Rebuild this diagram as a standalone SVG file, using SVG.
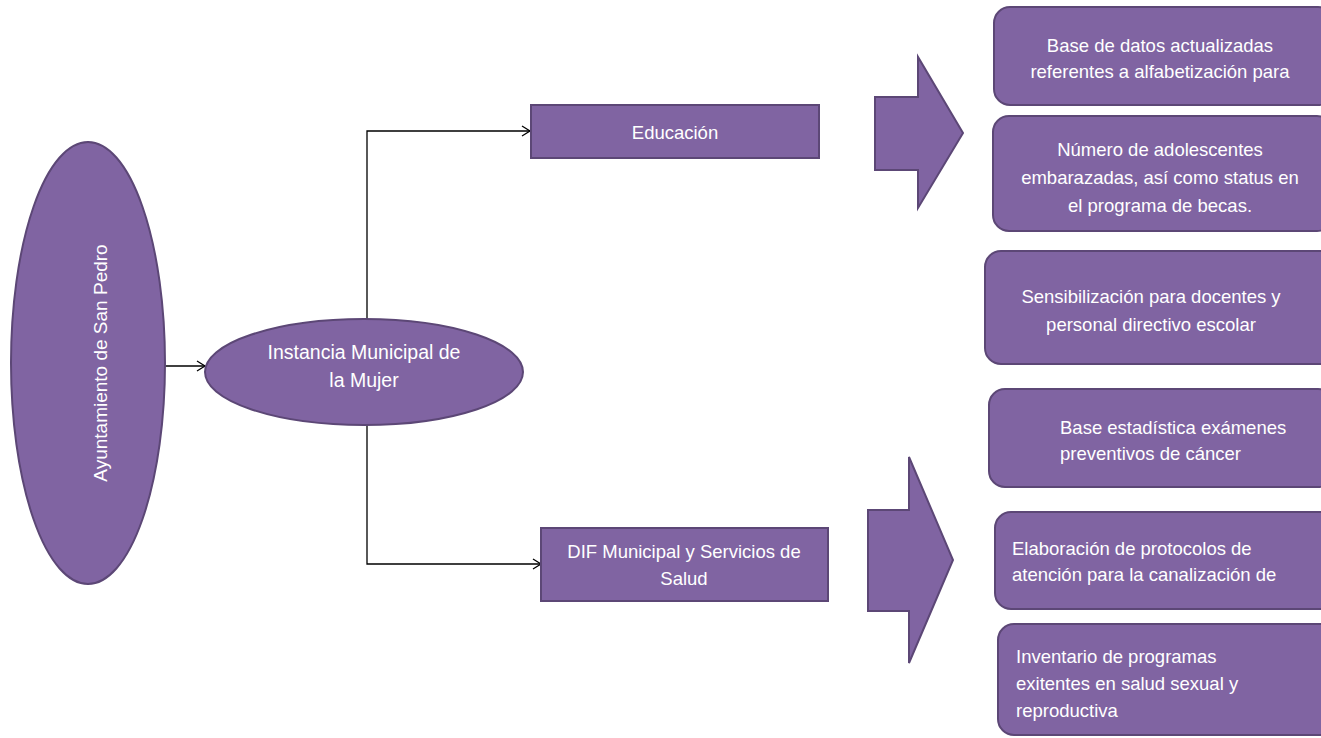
<svg xmlns="http://www.w3.org/2000/svg" width="1321" height="738" viewBox="0 0 1321 738">
<defs>
<style>
.n{fill:#8064a2;stroke:#5c4776;stroke-width:2}
.t{fill:#ffffff;font-family:"Liberation Sans",Arial,sans-serif;font-size:18.5px}
.c{text-anchor:middle}
.l{fill:none;stroke:#000;stroke-width:1.3}
</style>
<marker id="ah" markerWidth="12" markerHeight="12" refX="10" refY="6" orient="auto" markerUnits="userSpaceOnUse">
<path d="M2,1 L10,6 L2,11" fill="none" stroke="#000" stroke-width="1.3"/>
</marker>
</defs>
<rect width="1321" height="738" fill="#fff"/>
<g id="connectors">
<path class="l" d="M165,366 H205" marker-end="url(#ah)"/>
<path class="l" d="M367,319 V131 H530" marker-end="url(#ah)"/>
<path class="l" d="M367,425 V564 H541" marker-end="url(#ah)"/>
</g>
<g id="ayuntamiento">
<ellipse class="n" cx="88" cy="363" rx="77" ry="221"/>
<text class="t c" transform="translate(107,363) rotate(-90)" style="font-size:19px">Ayuntamiento de San Pedro</text>
</g>
<g id="instancia">
<ellipse class="n" cx="364" cy="372" rx="159" ry="53"/>
<text class="t c" x="364" y="359" style="font-size:19.5px">Instancia Municipal de</text>
<text class="t c" x="364" y="387" style="font-size:19.5px">la Mujer</text>
</g>
<g id="educacion">
<rect class="n" x="531" y="105" width="288" height="53"/>
<text class="t c" x="675" y="139">Educación</text>
</g>
<g id="dif">
<rect class="n" x="541" y="528" width="287" height="73"/>
<text class="t c" x="684" y="558">DIF Municipal y Servicios de</text>
<text class="t c" x="684" y="585">Salud</text>
</g>
<g id="flecha1">
<path class="n" d="M875,97 H918 V57 L963,133 L918,208 V170 H875 Z"/>
</g>
<g id="flecha2">
<path class="n" d="M868,510 H909 V457 L953,560 L909,663 V611 H868 Z"/>
</g>
<g id="r1">
<rect class="n" x="994" y="7" width="340" height="98" rx="16"/>
<text class="t c" x="1160" y="52">Base de datos actualizadas</text>
<text class="t c" x="1160" y="78">referentes a alfabetización para</text>
</g>
<g id="r2">
<rect class="n" x="993" y="116" width="340" height="115" rx="16"/>
<text class="t c" x="1160" y="156">Número de adolescentes</text>
<text class="t c" x="1160" y="184">embarazadas, así como status en</text>
<text class="t c" x="1160" y="212">el programa de becas.</text>
</g>
<g id="r3">
<rect class="n" x="985" y="251" width="350" height="113" rx="16"/>
<text class="t c" x="1151" y="303">Sensibilización para docentes y</text>
<text class="t c" x="1151" y="331">personal directivo escolar</text>
</g>
<g id="r4">
<rect class="n" x="989" y="389" width="345" height="98" rx="16"/>
<text class="t" x="1060" y="434">Base estadística exámenes</text>
<text class="t" x="1060" y="460">preventivos de cáncer</text>
</g>
<g id="r5">
<rect class="n" x="995" y="512" width="340" height="97" rx="16"/>
<text class="t" x="1012" y="555">Elaboración de protocolos de</text>
<text class="t" x="1012" y="581">atención para la canalización de</text>
</g>
<g id="r6">
<rect class="n" x="998" y="624" width="340" height="111" rx="16"/>
<text class="t" x="1016" y="663">Inventario de programas</text>
<text class="t" x="1016" y="690">exitentes en salud sexual y</text>
<text class="t" x="1016" y="717">reproductiva</text>
</g>
</svg>
